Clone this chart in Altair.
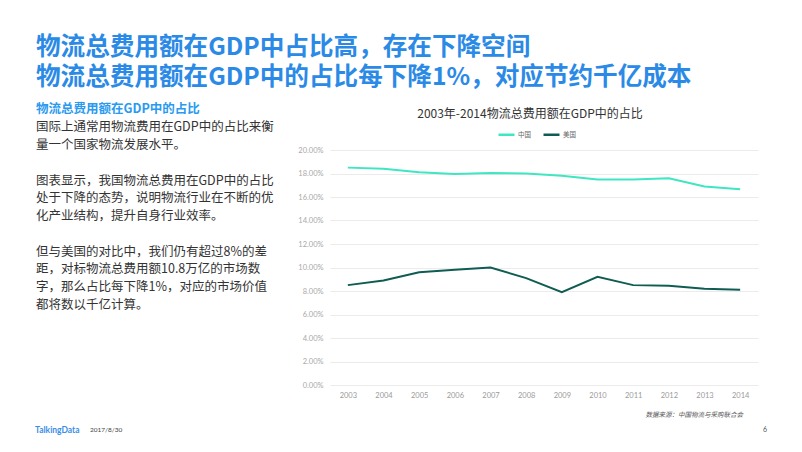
import altair as alt
import pandas as pd

# ---------------- data ----------------
years = ["2003", "2004", "2005", "2006", "2007", "2008",
         "2009", "2010", "2011", "2012", "2013", "2014"]
china = [18.5, 18.4, 18.1, 17.95, 18.05, 18.0, 17.8, 17.5, 17.5, 17.6, 16.9, 16.65]
usa = [8.5, 8.9, 9.6, 9.8, 10.0, 9.1, 7.9, 9.2, 8.5, 8.45, 8.2, 8.1]
series_names = ["中国", "美国"]
series_colors = ["#3fe6c2", "#0e5c52"]
y_ticks = [0, 0.02, 0.04, 0.06, 0.08, 0.10, 0.12, 0.14, 0.16, 0.18, 0.20]

headline = [
    "物流总费用额在GDP中占比高，存在下降空间",
    "物流总费用额在GDP中的占比每下降1%，对应节约千亿成本",
]
side_title = "物流总费用额在GDP中的占比"
para_1 = [
    "国际上通常用物流费用在GDP中的占比来衡",
    "量一个国家物流发展水平。",
]
para_2 = [
    "图表显示，我国物流总费用在GDP中的占比",
    "处于下降的态势，说明物流行业在不断的优",
    "化产业结构，提升自身行业效率。",
]
para_3 = [
    "但与美国的对比中，我们仍有超过8%的差",
    "距，对标物流总费用额10.8万亿的市场数",
    "字，那么占比每下降1%，对应的市场价值",
    "都将数以千亿计算。",
]
chart_title = "2003年-2014物流总费用额在GDP中的占比"
source_note = "数据来源：中国物流与采购联合会"
brand = "TalkingData"
date_text = "2017/8/30"
page_no = "6"

rows = []
for name, vals in zip(series_names, [china, usa]):
    for yr, v in zip(years, vals):
        rows.append({"年份": yr, "国家": name, "占比": v / 100})
df = pd.DataFrame(rows)

CJK = "Noto Sans CJK SC"
NUM = "Lato"
LH = 17.74  # body line height
HLH = 30    # headline line height

lines = alt.Chart(df).mark_line(strokeWidth=2, clip=False).encode(
    x=alt.X("年份:O", sort=years,
            scale=alt.Scale(type="point", padding=0.5),
            axis=alt.Axis(title=None, labelAngle=0, domain=False, ticks=False,
                          grid=False, labelFontSize=7.5, labelColor="#9a9a9a",
                          labelFont=NUM, labelPadding=6)),
    y=alt.Y("占比:Q", scale=alt.Scale(domain=[0, 0.2], nice=False),
            axis=alt.Axis(title=None, values=y_ticks, format=".2%", domain=False,
                          ticks=False, gridColor="#ebebeb", gridWidth=1,
                          labelFontSize=7.5, labelColor="#a8a8a8", labelFont=NUM,
                          labelPadding=7)),
    color=alt.Color("国家:N",
                    scale=alt.Scale(domain=series_names, range=series_colors),
                    legend=alt.Legend(title=None, orient="none", direction="horizontal",
                                      legendX=167, legendY=-25,
                                      symbolType="stroke", symbolSize=256,
                                      symbolStrokeWidth=2.5, labelFontSize=6.5,
                                      labelFont=CJK, labelColor="#666666",
                                      labelOffset=2, columnPadding=7)),
)


def text_layer(txt, x, y, **kw):
    d = pd.DataFrame({"t": [txt]})
    return alt.Chart(d).mark_text(**kw).encode(
        text="t:N", x=alt.value(x), y=alt.value(y))


def para_layer(plines, first_center):
    return text_layer("\n".join(plines), -294, first_center - LH / 2,
                      align="left", baseline="line-top", lineBreak="\n",
                      lineHeight=LH, fontSize=12.5, font=CJK, color="#333333")


layers = [
    lines,
    text_layer("\n".join(headline), -294, -102 - HLH / 2, align="left",
               baseline="line-top", lineBreak="\n", lineHeight=HLH,
               fontSize=24.6, fontWeight="bold", font=CJK, color="#2b8ae6"),
    text_layer(side_title, -294, -41, align="left", baseline="middle",
               fontSize=12.5, fontWeight="bold", font=CJK, color="#2a9af0"),
    para_layer(para_1, -21.7),
    para_layer(para_2, -21.7 + 3 * LH),
    para_layer(para_3, -21.7 + 7 * LH),
    text_layer(chart_title, 200, -36, align="center", baseline="middle",
               fontSize=12, font=CJK, color="#333333"),
    text_layer(source_note, 413, 265, align="right", baseline="middle",
               fontSize=6.5, font=CJK, fontStyle="italic", color="#555555"),
    text_layer(brand, -295, 279.5, align="left", baseline="middle",
               fontSize=8.5, font=NUM, fontWeight="bold", color="#3a8ee6"),
    text_layer(date_text, -240, 279.5, align="left", baseline="middle",
               fontSize=6.5, font=NUM, color="#444444"),
    text_layer(page_no, 435, 280, align="center", baseline="middle",
               fontSize=7, font=NUM, color="#555555"),
]

chart = alt.layer(*layers).properties(
    width=428, height=235,
    autosize=alt.AutoSizeParams(type="none"),
    padding={"left": 322, "top": 142, "right": 36, "bottom": 59},
    background="white",
).configure_view(stroke=None)

chart.save("out.html", embed_options={"renderer": "svg", "actions": False})
